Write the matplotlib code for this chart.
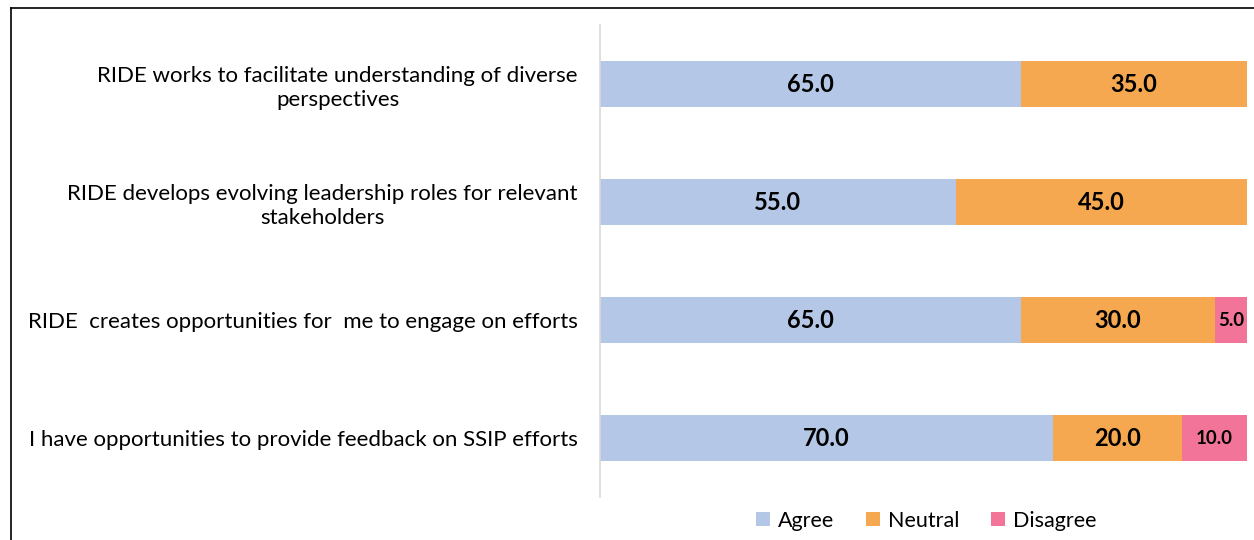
import matplotlib.pyplot as plt
from matplotlib.lines import Line2D
import numpy as np

# data
items = ['RIDE works to facilitate understanding of diverse\nperspectives',
         'RIDE develops evolving leadership roles for relevant\nstakeholders',
         'RIDE  creates opportunities for  me to engage on efforts',
         'I have opportunities to provide feedback on SSIP efforts']
agree = [65.0, 55.0, 65.0, 70.0]
neutral = [35.0, 45.0, 30.0, 20.0]
disagree = [0.0, 0.0, 5.0, 10.0]
series_names = ['Agree', 'Neutral', 'Disagree']
colors = ['#B4C7E7', '#F5A84F', '#F27499']

plt.rcParams['font.family'] = ['Lato', 'DejaVu Sans']

fig = plt.figure(figsize=(12.54, 5.4), dpi=100)
ax = fig.add_axes([0.4785, 0.0796, 0.5159, 0.8741])

y = np.arange(len(items))
left = np.zeros(len(items))
for vals, name, c in zip([agree, neutral, disagree], series_names, colors):
    vals = np.array(vals)
    ax.barh(y, vals, left=left, height=0.39, color=c, label=name)
    for yi, l, v in zip(y, left, vals):
        if v > 0:
            fs = 17 if v >= 15 else 13.5
            ax.text(l + v / 2, yi, f'{v:.1f}', ha='center', va='center',
                    fontsize=fs, fontweight='bold', color='black')
    left += vals

ax.set_xlim(0, 100)
ax.set_ylim(len(items) - 0.5, -0.5)
ax.set_xticks([])
ax.set_yticks(y)
ax.set_yticklabels(items, fontsize=16, multialignment='center', linespacing=1.25)
ax.tick_params(axis='y', length=0, pad=16)
for s in ['top', 'right', 'bottom']:
    ax.spines[s].set_visible(False)
ax.spines['left'].set_color('#D9D9D9')
ax.spines['left'].set_linewidth(1.2)

ax.legend(loc='center', bbox_to_anchor=(0.504, -0.05), ncol=3, frameon=False,
          fontsize=15.5, handlelength=0.65, handleheight=0.65, handletextpad=0.35,
          columnspacing=1.5)

# outer frame (cropped chart border)
fig.add_artist(Line2D([0.0085, 0.0085], [0, 0.985], color='black', lw=1.2,
                      transform=fig.transFigure))
fig.add_artist(Line2D([0.0085, 1.0], [0.985, 0.985], color='black', lw=1.2,
                      transform=fig.transFigure))

fig.savefig('out.png', dpi=100)
